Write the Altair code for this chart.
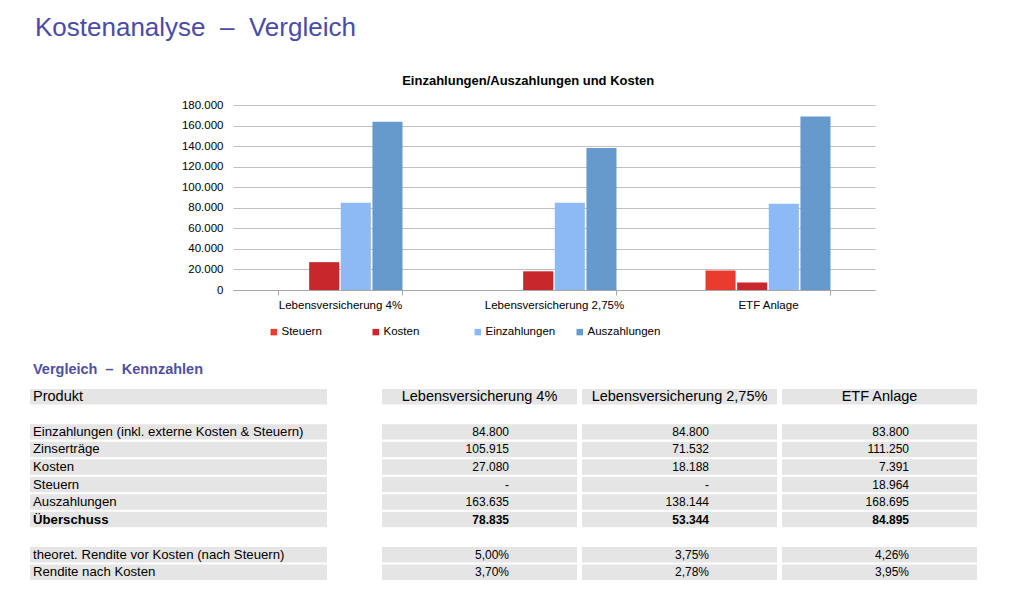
import altair as alt
import pandas as pd

# ---------------- data ----------------
products = ["Lebensversicherung 4%", "Lebensversicherung 2,75%", "ETF Anlage"]
series = ["Steuern", "Kosten", "Einzahlungen", "Auszahlungen"]
series_colors = ["#EA3B2F", "#C8282C", "#8DBAF5", "#6699CC"]

einzahlungen = [84800, 84800, 83800]
zinsertraege = [105915, 71532, 111250]
kosten = [27080, 18188, 7391]
steuern = [0, 0, 18964]
auszahlungen = [163635, 138144, 168695]
ueberschuss = [78835, 53344, 84895]
rendite_vor_kosten = [5.00, 3.75, 4.26]
rendite_nach_kosten = [3.70, 2.78, 3.95]

y_ticks = [0, 20000, 40000, 60000, 80000, 100000, 120000, 140000, 160000, 180000]

row_keys = ["produkt", "gap1", "einz", "zins", "kosten", "steuern", "ausz", "ueber", "gap2", "rv", "rn"]
row_labels = {
    "produkt": "Produkt",
    "einz": "Einzahlungen (inkl. externe Kosten & Steuern)",
    "zins": "Zinserträge",
    "kosten": "Kosten",
    "steuern": "Steuern",
    "ausz": "Auszahlungen",
    "ueber": "Überschuss",
    "rv": "theoret. Rendite vor Kosten (nach Steuern)",
    "rn": "Rendite nach Kosten",
}

# ---------------- layout (table geometry, px from table's left edge) ----------------
TABLE_W = 947
COL_EDGES = {"label": (0, 297), products[0]: (352, 547), products[1]: (552, 747), products[2]: (752, 947)}
VALUE_RIGHT = 127          # right edge of numbers inside a value column
LABEL_INSET = 3
FONT = "Liberation Sans"
TITLE_BLUE = "#4B4BA6"

# ---------------- bar chart ----------------
series_values = {"Steuern": steuern, "Kosten": kosten, "Einzahlungen": einzahlungen, "Auszahlungen": auszahlungen}
bar_rows = []
for s in series:
    for p, v in zip(products, series_values[s]):
        bar_rows.append({"product": p, "series": s, "value": v})
bar_df = pd.DataFrame(bar_rows)

bars = alt.Chart(bar_df).mark_bar().encode(
    x=alt.X("product:N", sort=products,
            scale=alt.Scale(paddingInner=0.416, paddingOuter=0.208),
            axis=alt.Axis(title=None, labelAngle=0, tickBand="extent", domainColor="#a6a6a6",
                          tickColor="#a6a6a6", tickSize=5, labelPadding=4, labelFontSize=11.5,
                          labelColor="#000000", labelFont=FONT, grid=False)),
    xOffset=alt.XOffset("series:N", sort=series, scale=alt.Scale(paddingInner=0.05)),
    y=alt.Y("value:Q", scale=alt.Scale(domain=[0, 180000], nice=False),
            axis=alt.Axis(title=None, values=y_ticks, domain=False, ticks=False, labelPadding=10,
                          labelFontSize=11.5, labelColor="#000000", labelFont=FONT,
                          gridColor="#c0c0c0", gridWidth=1,
                          labelExpr="replace(format(datum.value, ',d'), ',', '.')")),
    color=alt.Color("series:N", sort=series, scale=alt.Scale(domain=series, range=series_colors),
                    legend=alt.Legend(title=None, orient="none", legendX=35, legendY=221,
                                      direction="horizontal", columns=4, gridAlign="all",
                                      columnPadding=15, symbolType="square", symbolSize=42,
                                      symbolStrokeWidth=0, labelOffset=2, labelFontSize=11.5,
                                      labelFont=FONT, labelColor="#000000", padding=0)),
).properties(
    width=642, height=185,
    title=alt.TitleParams("Einzahlungen/Auszahlungen und Kosten", anchor="middle", frame="bounds",
                          fontSize=13, fontWeight="bold", font=FONT, color="#000000", offset=11),
)

# ---------------- table ----------------
def de_int(v):
    return "-" if v == 0 else f"{v:,}".replace(",", ".")

def de_pct(v):
    return f"{v:.2f}".replace(".", ",") + "%"

table_values = {
    "einz": [de_int(v) for v in einzahlungen],
    "zins": [de_int(v) for v in zinsertraege],
    "kosten": [de_int(v) for v in kosten],
    "steuern": [de_int(v) for v in steuern],
    "ausz": [de_int(v) for v in auszahlungen],
    "ueber": [de_int(v) for v in ueberschuss],
    "rv": [de_pct(v) for v in rendite_vor_kosten],
    "rn": [de_pct(v) for v in rendite_nach_kosten],
}

rect_rows, label_rows, header_rows, value_rows = [], [], [], []
for r in row_keys:
    if r not in row_labels:
        continue
    for c, (x0, x1) in COL_EDGES.items():
        rect_rows.append({"row": r, "x0": x0, "x1": x1})
    label_rows.append({"row": r, "x": COL_EDGES["label"][0] + LABEL_INSET, "text": row_labels[r],
                       "bold": r == "ueber", "head": r == "produkt"})
for p in products:
    x0, x1 = COL_EDGES[p]
    header_rows.append({"row": "produkt", "x": (x0 + x1) / 2, "text": p})
for r, vals in table_values.items():
    for p, t in zip(products, vals):
        value_rows.append({"row": r, "x": COL_EDGES[p][0] + VALUE_RIGHT, "text": t, "bold": r == "ueber"})

rect_df = pd.DataFrame(rect_rows)
label_df = pd.DataFrame(label_rows)
header_df = pd.DataFrame(header_rows)
value_df = pd.DataFrame(value_rows)

BAR_PLOT_LEFT = 203  # table left edge lies this far left of the shared plot origin
xs = alt.Scale(domain=[0, TABLE_W], range=[-BAR_PLOT_LEFT, TABLE_W - BAR_PLOT_LEFT], nice=False, zero=False)
ys = alt.Scale(domain=row_keys, paddingInner=0.12, paddingOuter=0.06)
Y = alt.Y("row:N", sort=row_keys, scale=ys, axis=None)

t_rect = alt.Chart(rect_df).mark_rect(color="#E5E5E5").encode(
    x=alt.X("x0:Q", scale=xs, axis=None), x2="x1:Q", y=Y)

t_label = alt.Chart(label_df).transform_filter("!datum.bold && !datum.head").mark_text(
    align="left", baseline="middle", font=FONT, fontSize=13.2, color="#000000").encode(
    x=alt.X("x:Q", scale=xs, axis=None), y=Y, text="text:N")
t_label_head = alt.Chart(label_df).transform_filter("datum.head").mark_text(
    align="left", baseline="middle", font=FONT, fontSize=14.5, color="#000000").encode(
    x=alt.X("x:Q", scale=xs, axis=None), y=Y, text="text:N")
t_label_bold = alt.Chart(label_df).transform_filter("datum.bold").mark_text(
    align="left", baseline="middle", font=FONT, fontSize=13.2, fontWeight="bold", color="#000000").encode(
    x=alt.X("x:Q", scale=xs, axis=None), y=Y, text="text:N")
t_header = alt.Chart(header_df).mark_text(
    align="center", baseline="middle", font=FONT, fontSize=14.5, color="#000000").encode(
    x=alt.X("x:Q", scale=xs, axis=None), y=Y, text="text:N")
t_values = alt.Chart(value_df).transform_filter("!datum.bold").mark_text(
    align="right", baseline="middle", font=FONT, fontSize=12, color="#000000").encode(
    x=alt.X("x:Q", scale=xs, axis=None), y=Y, text="text:N")
t_values_bold = alt.Chart(value_df).transform_filter("datum.bold").mark_text(
    align="right", baseline="middle", font=FONT, fontSize=12, fontWeight="bold", color="#000000").encode(
    x=alt.X("x:Q", scale=xs, axis=None), y=Y, text="text:N")

table = alt.layer(t_rect, t_label, t_label_head, t_label_bold, t_header, t_values, t_values_bold).properties(
    width=TABLE_W - BAR_PLOT_LEFT, height=193,
    title=alt.TitleParams("Vergleich\u00a0 –\u00a0 Kennzahlen", anchor="start", frame="bounds", dx=3,
                          fontSize=14.5, fontWeight="bold", font=FONT, color="#5050A0", offset=11),
)

chart = alt.vconcat(bars, table, spacing=50).properties(
    title=alt.TitleParams("Kostenanalyse\u00a0 –\u00a0 Vergleich", anchor="start", frame="bounds", dx=5,
                          fontSize=26, fontWeight="normal", font=FONT, color=TITLE_BLUE, offset=34),
    padding={"left": 22, "top": 7, "right": 5, "bottom": 3},
    background="white",
).configure_view(strokeWidth=0, stroke=None)

chart.save("out.html", embed_options={"renderer": "svg", "actions": False})
